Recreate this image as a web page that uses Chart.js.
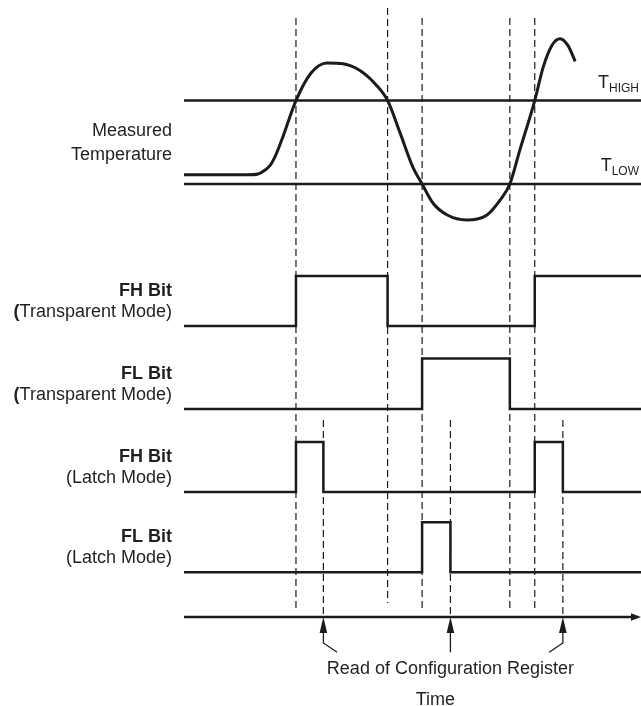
<!DOCTYPE html>
<html>
<head>
<meta charset="utf-8">
<title>Temperature alert timing</title>
<script src="https://cdn.jsdelivr.net/npm/chart.js@4.4.1/dist/chart.umd.min.js"></script>
<style>
  html, body { margin: 0; padding: 0; background: #fff; }
  #box { position: relative; width: 641px; height: 706px; }
</style>
</head>
<body>
<div id="box"><canvas id="timingChart"></canvas></div>
<script>
// time runs 0..100 across the plot
const timeMax = 100;

// measured temperature (arbitrary degrees)
const tempTimes  = [0, 14.0, 16.2, 17.5, 18.8, 20.1, 21.4, 24.5, 27.8, 31.3, 34.8, 38.5, 42.0, 44.55, 47.3,
                    50.1, 52.1, 54.5, 57.6, 61.9, 66.3, 69.2, 71.3, 73.5, 76.75, 78.6, 80.5, 82.3, 84.0, 85.6];
const tempValues = [21.1, 21.1, 21.2, 21.6, 22.2, 23.5, 25.3, 30.0, 33.3, 34.5, 34.4, 33.6, 31.9, 30.0, 26.1,
                    22.0, 20.0, 17.7, 16.3, 15.7, 16.3, 18.1, 20.0, 24.1, 30.0, 34.0, 36.6, 37.4, 36.6, 34.7];
const tLow = 20;
const tHigh = 30;

// instants where the temperature crosses a limit, and the register reads
const crossTimes = [24.5, 44.55, 52.1, 71.3, 76.75];
const readTimes  = [30.5, 58.3, 82.9];

// bit states: each value holds from its time until the next one
const fhTransparentTimes = [0, 24.5, 44.55, 76.75];
const fhTransparentBits  = [0, 1, 0, 1];
const flTransparentTimes = [0, 52.1, 71.3];
const flTransparentBits  = [0, 1, 0];
const fhLatchTimes = [0, 24.5, 30.5, 76.75, 82.9];
const fhLatchBits  = [0, 1, 0, 1, 0];
const flLatchTimes = [0, 52.1, 58.3];
const flLatchBits  = [0, 1, 0];

const rowTitles    = ['FH Bit', 'FL Bit', 'FH Bit', 'FL Bit'];
const rowSubtitles = ['(Transparent Mode)', '(Transparent Mode)', '(Latch Mode)', '(Latch Mode)'];
const rowAxes = ['yFhT', 'yFlT', 'yFhL', 'yFlL'];

const ink = '#1c1a1b';
const textInk = '#231f20';
const fontFamily = '"Liberation Sans", Arial, Helvetica, sans-serif';

function steps(times, bits) {
  const pts = times.map((t, i) => ({x: t, y: bits[i]}));
  pts.push({x: timeMax, y: bits[bits.length - 1]});
  return pts;
}

function bitDataset(times, bits, axis) {
  return {
    data: steps(times, bits),
    yAxisID: axis,
    stepped: 'before',
    borderColor: ink,
    borderWidth: 2.5,
    borderJoinStyle: 'miter',
    pointRadius: 0
  };
}

function levelDataset(value, axis, width) {
  return {
    data: [{x: 0, y: value}, {x: timeMax, y: value}],
    yAxisID: axis,
    borderColor: ink,
    borderWidth: width,
    pointRadius: 0
  };
}

// leader lines from the read arrows down to the caption
const readLeaders = readTimes.map(t => {
  const mid = readTimes[1];
  const dx = t < mid ? 3 : (t > mid ? -3 : 0);
  return {
    data: [{x: t, y: -0.4}, {x: t, y: -0.72}, {x: t + dx, y: -0.98}],
    yAxisID: 'yTime',
    borderColor: ink,
    borderWidth: 1.3,
    pointRadius: 0
  };
});

// dashed guides under the signals
const guidePlugin = {
  id: 'guides',
  beforeDatasetsDraw(chart) {
    const {ctx, scales} = chart;
    const axisY = scales.yTime.getPixelForValue(0);
    const readTop = scales.yFlT.getPixelForValue(0) + 11;
    ctx.save();
    ctx.strokeStyle = ink;
    ctx.lineWidth = 1.2;
    ctx.setLineDash([7, 4]);
    crossTimes.forEach((t, i) => {
      const x = scales.x.getPixelForValue(t);
      ctx.beginPath();
      ctx.moveTo(x, i === 1 ? 8 : 18);
      ctx.lineTo(x, i === 1 ? 603 : 612);
      ctx.stroke();
    });
    readTimes.forEach(t => {
      const x = scales.x.getPixelForValue(t);
      ctx.beginPath();
      ctx.moveTo(x, readTop);
      ctx.lineTo(x, axisY);
      ctx.stroke();
    });
    ctx.restore();
  }
};

// arrow heads and all the text
const textPlugin = {
  id: 'diagramText',
  afterDraw(chart) {
    const {ctx, scales, chartArea} = chart;
    const x = scales.x;
    const axisY = scales.yTime.getPixelForValue(0);
    ctx.save();
    ctx.fillStyle = ink;

    // read arrows
    readTimes.forEach(t => {
      const px = x.getPixelForValue(t);
      ctx.beginPath();
      ctx.moveTo(px, axisY);
      ctx.lineTo(px - 3.8, axisY + 16);
      ctx.lineTo(px + 3.8, axisY + 16);
      ctx.closePath();
      ctx.fill();
    });
    // time axis arrow
    const end = x.getPixelForValue(timeMax);
    ctx.beginPath();
    ctx.moveTo(end, axisY);
    ctx.lineTo(end - 10, axisY - 3.8);
    ctx.lineTo(end - 10, axisY + 3.8);
    ctx.closePath();
    ctx.fill();

    ctx.fillStyle = textInk;
    ctx.textBaseline = 'alphabetic';
    const labelRight = chartArea.left - 12;
    const normal = '18px ' + fontFamily;
    const bold = 'bold 18px ' + fontFamily;

    ctx.textAlign = 'right';
    ctx.font = normal;
    const tMid = scales.yTemp.getPixelForValue((tLow + tHigh) / 2);
    ctx.fillText('Measured', labelRight, tMid - 6);
    ctx.fillText('Temperature', labelRight, tMid + 18);

    rowAxes.forEach((id, i) => {
      const low = scales[id].getPixelForValue(0);
      ctx.font = bold;
      ctx.fillText(rowTitles[i], labelRight, low - 30);
      const sub = rowSubtitles[i];
      if (sub.indexOf('Transparent') >= 0) {
        // the opening paren is set bold in the original
        const rest = sub.slice(1);
        ctx.font = normal;
        ctx.fillText(rest, labelRight, low - 9);
        const w = ctx.measureText(rest).width;
        ctx.font = bold;
        ctx.fillText('(', labelRight - w, low - 9);
      } else {
        ctx.font = normal;
        ctx.fillText(sub, labelRight, low - 9);
      }
    });

    // threshold labels with subscripts
    [[tHigh, 'HIGH'], [tLow, 'LOW']].forEach(([v, subText]) => {
      const y = scales.yTemp.getPixelForValue(v);
      const right = chartArea.right - 2;
      ctx.font = '12px ' + fontFamily;
      const sw = ctx.measureText(subText).width;
      ctx.fillText(subText, right, y - 9);
      ctx.font = normal;
      ctx.fillText('T', right - sw, y - 13);
    });

    ctx.textAlign = 'center';
    ctx.font = normal;
    ctx.fillText('Read of Configuration Register', x.getPixelForValue(readTimes[1]),
                 scales.yTime.getPixelForValue(-1.58));
    ctx.fillText('Time', x.getPixelForValue(55), scales.yTime.getPixelForValue(-2.45));
    ctx.restore();
  }
};

const datasets = [
  levelDataset(tHigh, 'yTemp', 2.5),
  levelDataset(tLow, 'yTemp', 2.5),
  {
    data: tempTimes.map((t, i) => ({x: t, y: tempValues[i]})),
    yAxisID: 'yTemp',
    borderColor: ink,
    borderWidth: 3,
    cubicInterpolationMode: 'monotone',
    pointRadius: 0
  },
  bitDataset(fhTransparentTimes, fhTransparentBits, 'yFhT'),
  bitDataset(flTransparentTimes, flTransparentBits, 'yFlT'),
  bitDataset(fhLatchTimes, fhLatchBits, 'yFhL'),
  bitDataset(flLatchTimes, flLatchBits, 'yFlL'),
  {
    data: [{x: 0, y: 0}, {x: timeMax - 2, y: 0}],
    yAxisID: 'yTime',
    borderColor: ink,
    borderWidth: 2.5,
    pointRadius: 0
  },
  ...readLeaders
];

function rowAxis(weight, min, max) {
  return {type: 'linear', position: 'right', stack: 'rows', stackWeight: weight,
          min: min, max: max, display: false};
}

new Chart(document.getElementById('timingChart'), {
  type: 'line',
  data: {datasets: datasets},
  options: {
    responsive: true,
    maintainAspectRatio: false,
    animation: false,
    events: [],
    layout: {padding: {left: 184, right: 0, top: 0, bottom: 0}},
    plugins: {legend: {display: false}, tooltip: {enabled: false}},
    scales: {
      x: {type: 'linear', min: 0, max: timeMax, display: false},
      yTemp: rowAxis(240, 13.3, 42.04),
      yFhT: rowAxis(100, -0.28, 1.72),
      yFlT: rowAxis(80, -0.22, 1.37),
      yFhL: rowAxis(85, -0.26, 1.44),
      yFlL: rowAxis(85, -0.354, 1.346),
      yTime: rowAxis(116, -2.47, 0.75)
    }
  },
  plugins: [guidePlugin, textPlugin]
});
</script>
</body>
</html>
